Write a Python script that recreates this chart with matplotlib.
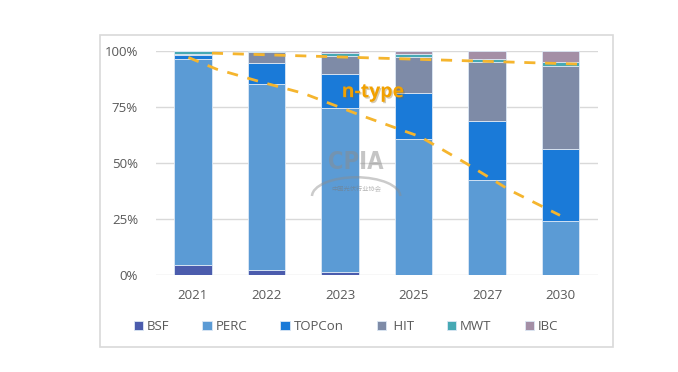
import numpy as np
import matplotlib
matplotlib.use("Agg")
import matplotlib.pyplot as plt
from matplotlib.patches import Rectangle, Arc
import matplotlib.patheffects as pe

plt.rcParams["font.family"] = ["Open Sans", "Noto Sans CJK SC", "DejaVu Sans"]

# -----------------------------
# data (share of cell technology, %)
# -----------------------------
years = ["2021", "2022", "2023", "2025", "2027", "2030"]
bsf = [4.5, 2.1, 1.0, 0.0, 0.0, 0.0]
perc = [91.8, 83.1, 73.3, 60.8, 42.2, 23.8]
topcon = [1.9, 9.3, 15.4, 20.2, 26.4, 32.3]
hit = [0.3, 4.8, 7.8, 16.4, 26.2, 37.2]
mwt = [1.3, 0.7, 1.5, 1.1, 1.5, 1.6]
ibc = [0.2, 0.0, 1.0, 1.5, 3.7, 5.1]

series_names = ["BSF", "PERC", "TOPCon", " HIT", "MWT", "IBC"]
series_colors = ["#4b5cad", "#5b9bd5", "#1a7ad8", "#7e8ba7", "#46a9b4", "#a48fa6"]

# dashed guide lines (x in category units, y in %)
upper_x = [0.26, 5.26]
upper_y = [98.9, 94.0]
lower_x = [-0.06, 0.32, 0.91, 1.50, 2.27, 3.09, 3.72, 4.31, 4.99]
lower_y = [97.0, 91.8, 86.2, 81.0, 71.3, 61.6, 49.6, 37.7, 26.5]

fig = plt.figure(figsize=(6.78, 3.72), dpi=100)
fig.patch.set_facecolor("white")

# outer frame
fig.add_artist(Rectangle((100 / 678, 1 - 347 / 372), 513 / 678, 312 / 372,
                         transform=fig.transFigure, fill=False,
                         edgecolor="#d9d9d9", linewidth=1.2))

ax = fig.add_axes([156 / 678, 1 - 274.7 / 372, 441.5 / 678, 224 / 372])

x = np.arange(len(years))
bottom = np.zeros(len(years))
handles = []
for name, vals, col in zip(series_names, [bsf, perc, topcon, hit, mwt, ibc], series_colors):
    vals = np.array(vals)
    b = ax.bar(x, vals, 0.51, bottom=bottom, color=col, edgecolor="#dce8f5",
               linewidth=0.6, label=name, zorder=2)
    handles.append(b)
    bottom += vals

ax.plot(upper_x, upper_y, color="#f5b52e", lw=2, dashes=(4, 3.5), zorder=4)
ax.plot(lower_x, lower_y, color="#f5b52e", lw=2, dashes=(4, 3.5), zorder=4)

ax.text(2.45, 81.5, "n-type", color="#f2a100", fontsize=14, fontweight="bold",
        ha="center", va="center", zorder=5,
        path_effects=[pe.withSimplePatchShadow(offset=(1, -1), shadow_rgbFace="#8a6a2a", alpha=0.35)])

# watermark
ax.text(2.22, 50.5, "CPIA", color="#8c8c8c", alpha=0.5, fontsize=17, fontweight="bold",
        ha="center", va="center", family="DejaVu Sans", fontstretch="condensed", zorder=3)
ax.text(2.22, 38.0, "中国光伏行业协会", color="#7a7a7a", alpha=0.55, fontsize=4.5,
        ha="center", va="center", family=["Noto Sans CJK SC"], zorder=3)
ax.add_patch(Arc((2.22, 35), 1.2, 17, theta1=12, theta2=168, color="#8c8c8c",
                 alpha=0.45, lw=1.8, zorder=3))

ax.set_xlim(-0.5, 5.5)
ax.set_ylim(0, 100)
ax.set_yticks([0, 25, 50, 75, 100])
ax.set_yticklabels(["0%", "25%", "50%", "75%", "100%"])
ax.set_xticks(x)
ax.set_xticklabels(years)
ax.tick_params(axis="both", length=0, colors="#595959", labelsize=9.5)
ax.tick_params(axis="x", pad=10)
ax.tick_params(axis="y", pad=13)
ax.yaxis.grid(True, color="#d9d9d9", linewidth=1, zorder=0)
ax.set_axisbelow(True)
for s in ax.spines.values():
    s.set_visible(False)

fig.legend(handles=handles, loc="center", bbox_to_anchor=(346 / 678, 1 - 326.5 / 372),
           ncol=6, frameon=False, fontsize=9.5, handlelength=0.7, handleheight=0.7,
           handletextpad=0.3, columnspacing=2.5, labelcolor="#595959")

fig.savefig("out.png", dpi=100, facecolor="white")
